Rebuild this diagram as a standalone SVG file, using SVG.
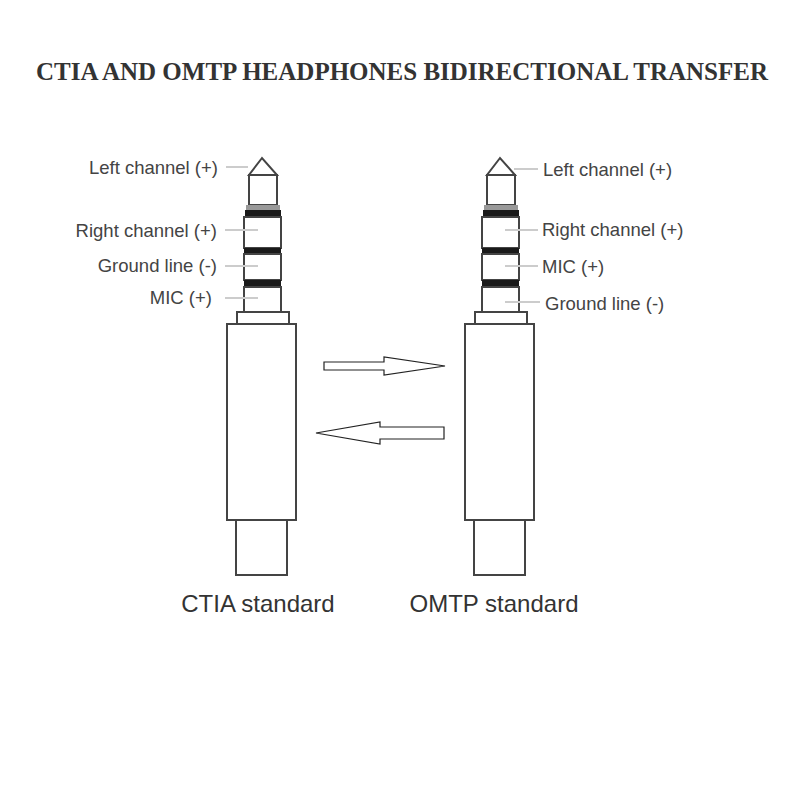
<svg xmlns="http://www.w3.org/2000/svg" width="800" height="800" viewBox="0 0 800 800">
<style>
.p{fill:#fff;stroke:#444;stroke-width:2}
.b{fill:#1a1a1a}
.g{fill:#999}
.l{stroke:#ccc;stroke-width:2}
.t{font-family:"Liberation Sans",Arial,sans-serif;font-size:18.5px;fill:#444}
.s{font-family:"Liberation Sans",Arial,sans-serif;font-size:24px;fill:#333}
.a{fill:#fff;stroke:#222;stroke-width:1.2}
</style>
<rect width="800" height="800" fill="#fff"/>
<text x="402" y="80" text-anchor="middle" font-family="Liberation Serif,serif" font-weight="bold" font-size="26" fill="#333" textLength="732" lengthAdjust="spacingAndGlyphs">CTIA AND OMTP HEADPHONES BIDIRECTIONAL TRANSFER</text>
<defs>
<g id="plug">
<polygon class="p" points="262,158 249,175 277,175"/>
<rect class="p" x="249" y="175" width="28" height="30"/>
<rect class="g" x="246" y="205" width="34" height="6"/>
<rect class="b" x="245" y="210" width="36" height="7"/>
<rect class="p" x="244" y="217" width="37" height="31"/>
<rect class="b" x="244" y="248" width="37" height="6"/>
<rect class="p" x="244" y="254" width="37" height="26"/>
<rect class="b" x="244" y="280" width="37" height="7"/>
<rect class="p" x="244" y="287" width="37" height="25"/>
<rect class="p" x="237" y="312" width="52" height="12"/>
<rect class="p" x="227" y="324" width="69" height="196"/>
<rect class="p" x="236" y="520" width="51" height="55"/>
</g>
</defs>
<g id="ctia">
<use href="#plug"/>
<line class="l" x1="226" y1="167" x2="248" y2="167"/>
<line class="l" x1="225" y1="230" x2="258" y2="230"/>
<line class="l" x1="225" y1="266" x2="258" y2="266"/>
<line class="l" x1="225" y1="298" x2="258" y2="298"/>
<text class="t" x="218" y="174" text-anchor="end">Left channel (+)</text>
<text class="t" x="217" y="237" text-anchor="end">Right channel (+)</text>
<text class="t" x="217" y="272" text-anchor="end">Ground line (-)</text>
<text class="t" x="212" y="304" text-anchor="end">MIC (+)</text>
<text class="s" x="258" y="612" text-anchor="middle">CTIA standard</text>
</g>
<g id="omtp">
<use href="#plug" x="238"/>
<line class="l" x1="514" y1="169" x2="538" y2="169"/>
<line class="l" x1="505" y1="230" x2="538" y2="230"/>
<line class="l" x1="505" y1="266" x2="538" y2="266"/>
<line class="l" x1="505" y1="302" x2="540" y2="302"/>
<text class="t" x="543" y="176">Left channel (+)</text>
<text class="t" x="542" y="236">Right channel (+)</text>
<text class="t" x="542" y="273">MIC (+)</text>
<text class="t" x="545" y="310">Ground line (-)</text>
<text class="s" x="494" y="612" text-anchor="middle">OMTP standard</text>
</g>
<g id="connectors">
<polygon class="a" points="324,362 384,362 384,357 445,366 384,375 384,370 324,370"/>
<polygon class="a" points="444,427 380,427 380,422 316,433 380,444 380,439 444,439"/>
</g>
</svg>
